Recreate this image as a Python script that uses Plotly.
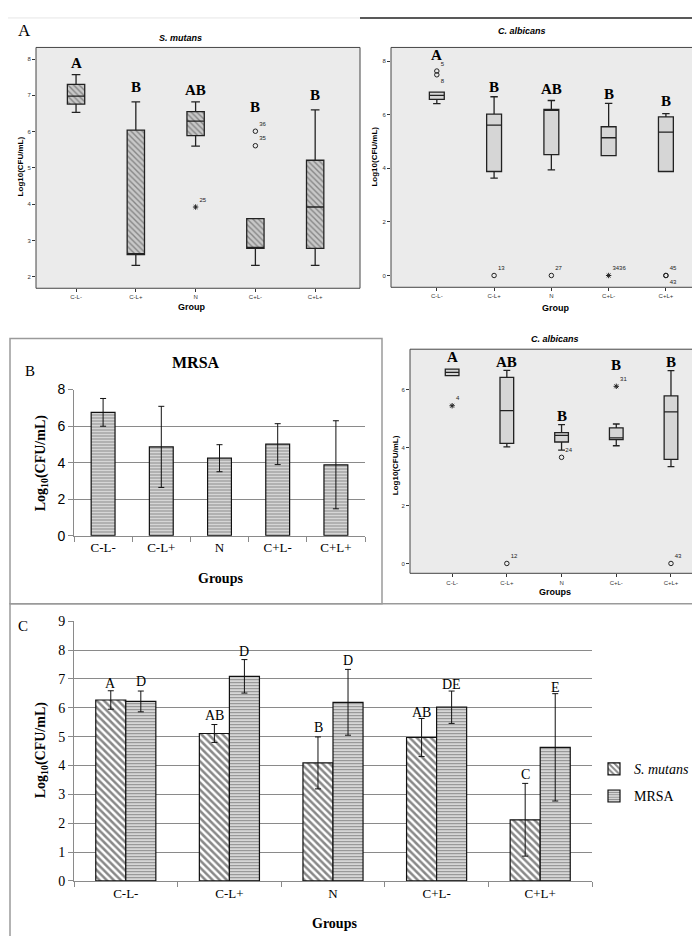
import plotly.graph_objects as go

groups = ["C-L-", "C-L+", "N", "C+L-", "C+L+"]

# ---------- Panel A (left): S. mutans box plot ----------
sm_q1 = [6.76, 2.61, 5.89, 2.78, 2.78]
sm_med = [6.98, 2.61, 6.29, 2.78, 3.92]
sm_q3 = [7.30, 6.04, 6.55, 3.60, 5.21]
sm_lo = [6.53, 2.31, 5.60, 2.31, 2.31]
sm_hi = [7.57, 6.82, 6.82, 3.60, 6.60]
sm_out_x = ["N", "C+L-", "C+L-"]
sm_out_y = [3.92, 6.01, 5.61]
sm_out_lab = ["25", "36", "35"]
sm_out_sym = ["asterisk-open", "circle-open", "circle-open"]
sm_letters = ["A", "B", "AB", "B", "B"]
sm_letter_y = [7.89, 7.22, 7.14, 6.68, 7.00]

# ---------- Panel A (right): C. albicans box plot ----------
ca1_q1 = [6.57, 3.88, 4.51, 4.47, 3.88]
ca1_med = [6.72, 5.61, 6.20, 5.14, 5.35]
ca1_q3 = [6.84, 6.02, 6.20, 5.55, 5.92]
ca1_lo = [6.41, 3.63, 3.94, 4.47, 3.88]
ca1_hi = [6.84, 6.67, 6.53, 6.42, 6.04]
ca1_out_x = ["C-L-", "C-L-", "C-L+", "N", "C+L-", "C+L+", "C+L+"]
ca1_out_y = [7.63, 7.49, 0.0, 0.0, 0.0, 0.0, 0.0]
ca1_out_lab = ["5", "8", "13", "27", "3436", "45", "43"]
ca1_out_pos = ["top right", "bottom right", "top right", "top right", "top right", "top right", "bottom right"]
ca1_out_sym = ["circle-open", "circle-open", "circle-open", "circle-open", "asterisk-open", "circle-open", "circle-open"]
ca1_letters = ["A", "B", "AB", "B", "B"]
ca1_letter_y = [8.22, 7.05, 6.97, 6.79, 6.50]

# ---------- Panel B (left): MRSA bar chart ----------
mrsa_mean = [6.75, 4.86, 4.24, 5.01, 3.88]
mrsa_err = [0.76, 2.22, 0.74, 1.12, 2.41]

# ---------- Panel B (right): C. albicans box plot ----------
ca2_q1 = [6.48, 4.14, 4.19, 4.27, 3.59]
ca2_med = [6.59, 5.27, 4.42, 4.33, 5.23]
ca2_q3 = [6.70, 6.42, 4.51, 4.68, 5.78]
ca2_lo = [6.48, 4.02, 3.91, 4.06, 3.34]
ca2_hi = [6.70, 6.66, 4.79, 4.81, 6.65]
ca2_out_x = ["C-L-", "C-L+", "N", "C+L-", "C+L+"]
ca2_out_y = [5.44, 0.0, 3.66, 6.11, 0.0]
ca2_out_lab = ["4", "12", "24", "31", "43"]
ca2_out_sym = ["asterisk-open", "circle-open", "circle-open", "asterisk-open", "circle-open"]
ca2_letters = ["A", "AB", "B", "B", "B"]
ca2_letter_y = [7.12, 6.96, 5.10, 6.83, 6.96]

# ---------- Panel C: S. mutans vs MRSA ----------
c_sm_mean = [6.27, 5.11, 4.09, 4.97, 2.12]
c_sm_err = [0.32, 0.31, 0.90, 0.66, 1.26]
c_mrsa_mean = [6.22, 7.09, 6.19, 6.02, 4.63]
c_mrsa_err = [0.36, 0.58, 1.14, 0.56, 1.86]
c_sm_letters = ["A", "AB", "B", "AB", "C"]
c_sm_letter_y = [6.83, 5.73, 5.33, 5.85, 3.69]
c_mrsa_letters = ["D", "D", "D", "DE", "E"]
c_mrsa_letter_y = [6.90, 7.95, 7.63, 6.81, 6.70]

W, H = 700, 936


def X(px):
    return px / W


def Y(py):
    return 1 - py / H


SANS = "Liberation Sans"
SERIF = "Liberation Serif"

fig = go.Figure()

# --- A left: hatched boxes (bar gives hatch fill, box draws outline/median/whiskers)
fig.add_trace(go.Bar(
    x=groups, y=[b - a for a, b in zip(sm_q1, sm_q3)], base=sm_q1, width=0.29,
    marker=dict(color="#c4c4c4", line=dict(width=0),
                pattern=dict(shape="\\", fgcolor="#444444", bgcolor="#c8c8c8", size=4, solidity=0.35)),
    xaxis="x", yaxis="y", showlegend=False, hoverinfo="skip"))
fig.add_trace(go.Box(
    x=groups, q1=sm_q1, median=sm_med, q3=sm_q3, lowerfence=sm_lo, upperfence=sm_hi,
    width=0.29, whiskerwidth=0.5, fillcolor="rgba(0,0,0,0)", line=dict(color="#222222", width=1.3),
    boxpoints=False, xaxis="x", yaxis="y", showlegend=False))
fig.add_trace(go.Scatter(
    x=sm_out_x, y=sm_out_y, mode="markers+text", text=sm_out_lab, textposition="top right",
    textfont=dict(family=SANS, size=6, color="#222"),
    marker=dict(symbol=sm_out_sym, size=4.5, color="#222", line=dict(width=1, color="#222")),
    xaxis="x", yaxis="y", showlegend=False))

# --- A right
fig.add_trace(go.Box(
    x=groups, q1=ca1_q1, median=ca1_med, q3=ca1_q3, lowerfence=ca1_lo, upperfence=ca1_hi,
    width=0.26, whiskerwidth=0.5, fillcolor="#d6d6d6", line=dict(color="#222222", width=1.3),
    boxpoints=False, xaxis="x2", yaxis="y2", showlegend=False))
fig.add_trace(go.Scatter(
    x=ca1_out_x, y=ca1_out_y, mode="markers+text", text=ca1_out_lab, textposition=ca1_out_pos,
    textfont=dict(family=SANS, size=6, color="#222"),
    marker=dict(symbol=ca1_out_sym, size=4.5, color="#222", line=dict(width=1, color="#222")),
    xaxis="x2", yaxis="y2", showlegend=False))

# --- B left: MRSA bars
fig.add_trace(go.Bar(
    x=groups, y=mrsa_mean, width=0.41,
    marker=dict(color="white", line=dict(color="#111", width=1.2),
                pattern=dict(shape="-", fgcolor="#2a2a2a", bgcolor="#eeeeee", size=3, solidity=0.5)),
    error_y=dict(type="data", array=mrsa_err, color="#111", thickness=1, width=3),
    xaxis="x3", yaxis="y3", showlegend=False))

# --- B right
fig.add_trace(go.Box(
    x=groups, q1=ca2_q1, median=ca2_med, q3=ca2_q3, lowerfence=ca2_lo, upperfence=ca2_hi,
    width=0.25, whiskerwidth=0.5, fillcolor="#d6d6d6", line=dict(color="#222222", width=1.3),
    boxpoints=False, xaxis="x4", yaxis="y4", showlegend=False))
fig.add_trace(go.Scatter(
    x=ca2_out_x, y=ca2_out_y, mode="markers+text", text=ca2_out_lab, textposition="top right",
    textfont=dict(family=SANS, size=6, color="#222"),
    marker=dict(symbol=ca2_out_sym, size=4.5, color="#222", line=dict(width=1, color="#222")),
    xaxis="x4", yaxis="y4", showlegend=False))

# --- C: grouped bars
fig.add_trace(go.Bar(
    x=groups, y=c_sm_mean, width=0.29, offset=-0.29, name="<i>S. mutans</i>", legendgroup="sm",
    marker=dict(color="white", line=dict(color="#111", width=1.2),
                pattern=dict(shape="\\", fgcolor="#111111", bgcolor="white", size=5, solidity=0.5)),
    error_y=dict(type="data", array=c_sm_err, color="#111", thickness=1, width=3),
    xaxis="x5", yaxis="y5"))
fig.add_trace(go.Bar(
    x=groups, y=c_mrsa_mean, width=0.29, offset=0.0, name="MRSA", legendgroup="mrsa",
    marker=dict(color="white", line=dict(color="#111", width=1.2),
                pattern=dict(shape="-", fgcolor="#2a2a2a", bgcolor="#eeeeee", size=3, solidity=0.5)),
    error_y=dict(type="data", array=c_mrsa_err, color="#111", thickness=1, width=3),
    xaxis="x5", yaxis="y5"))

annotations = []

# letters on SPSS panels
for g, t, yv in zip(groups, sm_letters, sm_letter_y):
    annotations.append(dict(x=g, y=yv, xref="x", yref="y", text="<b>" + t + "</b>", showarrow=False,
                            font=dict(family=SERIF, size=15, color="black"), yanchor="middle"))
for g, t, yv in zip(groups, ca1_letters, ca1_letter_y):
    annotations.append(dict(x=g, y=yv, xref="x2", yref="y2", text="<b>" + t + "</b>", showarrow=False,
                            font=dict(family=SERIF, size=15, color="black"), yanchor="middle"))
for g, t, yv in zip(groups, ca2_letters, ca2_letter_y):
    annotations.append(dict(x=g, y=yv, xref="x4", yref="y4", text="<b>" + t + "</b>", showarrow=False,
                            font=dict(family=SERIF, size=15, color="black"), yanchor="middle"))
for g, t, yv in zip(groups, c_sm_letters, c_sm_letter_y):
    annotations.append(dict(x=g, y=yv, xref="x5", yref="y5", text=t, showarrow=False, xshift=-15,
                            font=dict(family=SERIF, size=14, color="black"), yanchor="middle"))
for g, t, yv in zip(groups, c_mrsa_letters, c_mrsa_letter_y):
    annotations.append(dict(x=g, y=yv, xref="x5", yref="y5", text=t, showarrow=False, xshift=15,
                            font=dict(family=SERIF, size=14, color="black"), yanchor="middle"))


def txt(px, py, s, size, family, bold=False, italic=False, angle=0, color="black"):
    if bold:
        s = "<b>" + s + "</b>"
    if italic:
        s = "<i>" + s + "</i>"
    annotations.append(dict(x=X(px), y=Y(py), xref="paper", yref="paper", text=s, showarrow=False,
                            textangle=angle, xanchor="center", yanchor="middle",
                            font=dict(family=family, size=size, color=color)))


# panel labels
txt(16, 15, "A", 17, SERIF)
txt(22, 361, "B", 15, SERIF)
txt(15, 621, "C", 15, SERIF)

# SPSS titles
txt(172, 22, "S. mutans", 9, SANS, bold=True, italic=True)
txt(514, 15, "C. albicans", 9, SANS, bold=True, italic=True)
txt(547, 329, "C. albicans", 9, SANS, bold=True, italic=True)
txt(183, 296, "Group", 9, SANS, bold=True)
txt(547, 297, "Group", 9, SANS, bold=True)
txt(547, 586, "Groups", 9, SANS, bold=True)
txt(12, 153, "Log10(CFU/mL)", 8, SANS, bold=True, angle=-90)
txt(367, 143, "Log10(CFU/mL)", 8, SANS, bold=True, angle=-90)
txt(387, 457, "Log10(CFU/mL)", 8, SANS, bold=True, angle=-90)

# MRSA panel texts
txt(188, 353, "MRSA", 16, SERIF, bold=True)
txt(33, 455, "Log<sub>10</sub>(CFU/mL)", 14, SERIF, bold=True, angle=-90)
txt(212, 572, "Groups", 14, SERIF, bold=True)

# C panel texts
txt(33, 747, "Log<sub>10</sub>(CFU/mL)", 14, SERIF, bold=True, angle=-90)
txt(326, 923, "Groups", 14, SERIF, bold=True)

spss_x = dict(type="category", categoryorder="array", categoryarray=groups, showgrid=False,
              zeroline=False, showline=False, ticks="outside", ticklen=3, tickcolor="#333",
              tickfont=dict(family=SANS, size=6, color="#333"))
spss_y = dict(showgrid=False, zeroline=False, showline=False, ticks="outside", ticklen=3,
              tickcolor="#333", tickfont=dict(family=SANS, size=6, color="#333"))

xl_x = dict(type="category", categoryorder="array", categoryarray=groups, range=[-0.5, 4.5],
            showgrid=False, zeroline=False, showline=True, linecolor="#8a8a8a", linewidth=1,
            ticks="outside", tickson="boundaries", ticklen=5, tickcolor="#8a8a8a")
xl_y = dict(showgrid=True, gridcolor="#8a8a8a", gridwidth=1, zeroline=False, showline=True,
            linecolor="#8a8a8a", linewidth=1, ticks="outside", ticklen=5, tickcolor="#8a8a8a")

fig.update_layout(
    width=W, height=H, margin=dict(l=0, r=0, t=0, b=0),
    paper_bgcolor="white", plot_bgcolor="rgba(0,0,0,0)",
    barmode="overlay", boxmode="overlay",
    xaxis=dict(spss_x, domain=[X(28), X(352)], range=[-0.67, 4.75], anchor="y"),
    yaxis=dict(spss_y, domain=[Y(277), Y(32)], range=[1.68, 8.32], dtick=1, anchor="x"),
    xaxis2=dict(spss_x, domain=[X(383), X(698)], range=[-0.80, 4.70], anchor="y2"),
    yaxis2=dict(spss_y, domain=[Y(276), Y(32)], range=[-0.44, 8.51], dtick=2, anchor="x2"),
    xaxis3=dict(xl_x, domain=[X(66), X(357)], anchor="y3",
                tickfont=dict(family=SERIF, size=13, color="black")),
    yaxis3=dict(xl_y, domain=[Y(528.7), Y(380)], range=[0, 8.001], dtick=2, anchor="x3",
                tickfont=dict(family=SANS, size=14, color="black")),
    xaxis4=dict(spss_x, domain=[X(402), X(698)], range=[-0.77, 4.64], anchor="y4"),
    yaxis4=dict(spss_y, domain=[Y(567), Y(339)], range=[-0.34, 7.39], dtick=2, anchor="x4"),
    xaxis5=dict(xl_x, domain=[X(66), X(584)], anchor="y5",
                tickfont=dict(family=SERIF, size=13, color="black")),
    yaxis5=dict(xl_y, domain=[Y(880), Y(615.7)], range=[0, 9.001], dtick=1, anchor="x5",
                tickfont=dict(family=SERIF, size=14, color="black")),
    legend=dict(x=X(586), y=Y(750), xanchor="left", yanchor="top", bgcolor="rgba(0,0,0,0)",
                font=dict(family=SERIF, size=14, color="black"), tracegroupgap=6, itemwidth=30),
    annotations=annotations,
    shapes=[
        dict(type="rect", xref="x domain", yref="y domain", x0=0, x1=1, y0=0, y1=1,
             fillcolor="#ebebeb", line=dict(color="#444", width=1), layer="below"),
        dict(type="rect", xref="x2 domain", yref="y2 domain", x0=0, x1=1, y0=0, y1=1,
             fillcolor="#ebebeb", line=dict(color="#444", width=1), layer="below"),
        dict(type="rect", xref="x4 domain", yref="y4 domain", x0=0, x1=1, y0=0, y1=1,
             fillcolor="#ebebeb", line=dict(color="#444", width=1), layer="below"),
        dict(type="rect", xref="paper", yref="paper", x0=X(2), x1=X(374), y0=Y(598), y1=Y(328),
             line=dict(color="#9a9a9a", width=1.5)),
        dict(type="rect", xref="paper", yref="paper", x0=X(2), x1=X(697), y0=Y(960), y1=Y(598),
             line=dict(color="#9a9a9a", width=1.5)),
        dict(type="line", xref="paper", yref="paper", x0=X(352), x1=X(700), y0=Y(2), y1=Y(2),
             line=dict(color="#222", width=1.5)),
        dict(type="line", xref="paper", yref="paper", x0=X(0), x1=X(352), y0=Y(2), y1=Y(2),
             line=dict(color="#e6e6e6", width=1)),
    ],
)

fig.write_html("out.html")
